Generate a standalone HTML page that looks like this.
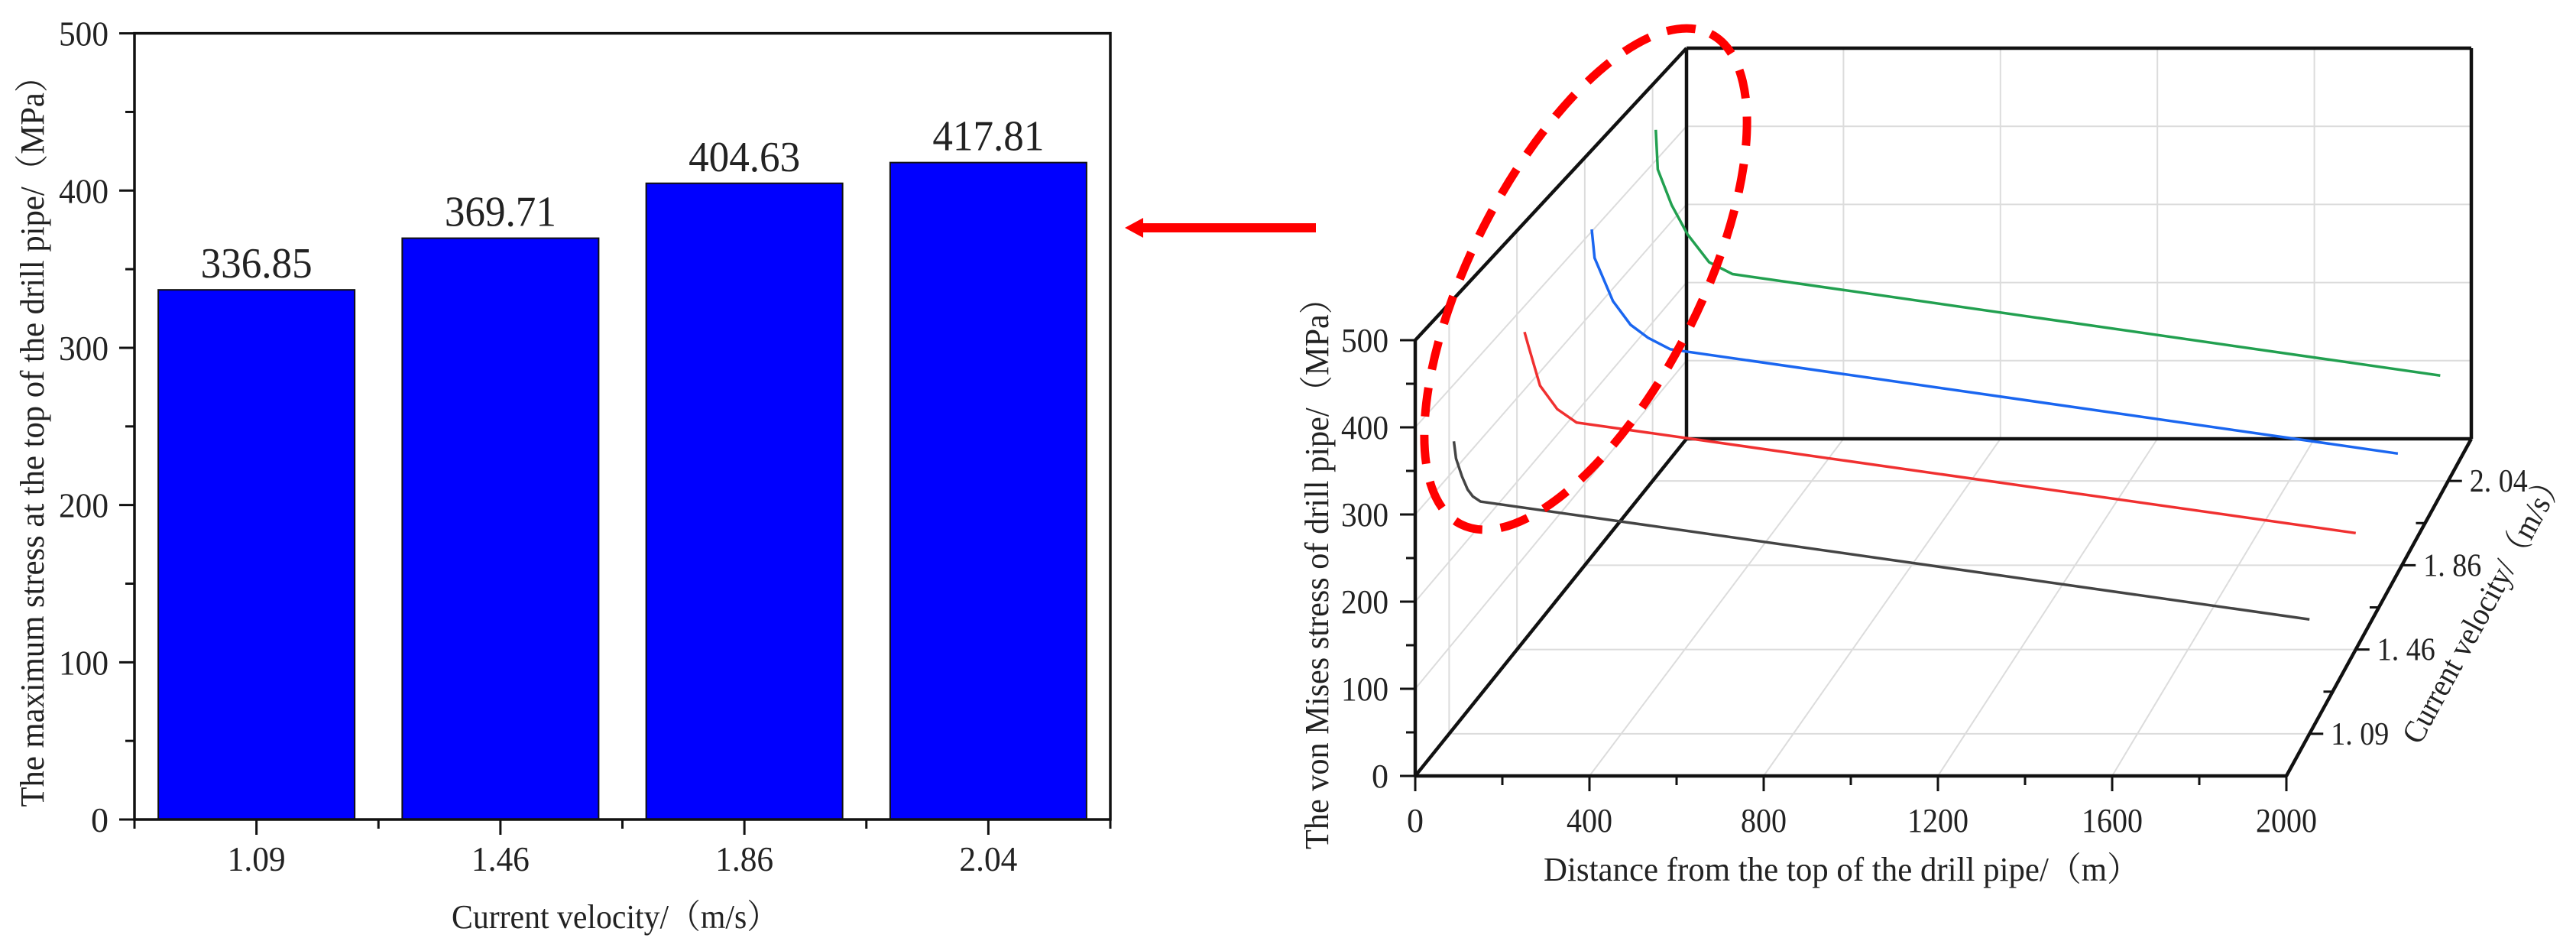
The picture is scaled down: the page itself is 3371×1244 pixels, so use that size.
<!DOCTYPE html>
<html><head><meta charset="utf-8"><style>
html,body{margin:0;padding:0;background:#fff;}
svg{display:block;}
text{font-family:"Liberation Serif","Noto Serif CJK SC",serif;fill:#222;}
</style></head><body>
<svg id="fig" width="3371" height="1244" viewBox="0 0 3371 1244" xmlns="http://www.w3.org/2000/svg">
<g id="bar"></g>
<g id="arrow">
  <rect x="1490" y="292" width="232" height="12" fill="#f00"/>
  <polygon points="1472,298 1496,285 1496,311" fill="#f00"/>
</g>
<g id="p3d"></g>
</svg>
<script>
// ---------- bar chart data ----------
const barCategories = ["1.09","1.46","1.86","2.04"];
const barValues = [336.85, 369.71, 404.63, 417.81];
const barLabels = ["336.85","369.71","404.63","417.81"];
const barYTicks = [0,100,200,300,400,500];

// ---------- 3D chart data ----------
const depthCategories = ["1. 09","1. 46","1. 86","2. 04"];
const xTicks3d = [0,400,800,1200,1600,2000];
const yTicks3d = [0,100,200,300,400,500];
const blackX = [11,16,30,43,55,73,2000];
const blackY = [340,320,299,284,276,270,133];
const redX = [18,27,55,96,142,2000];
const redY = [379,363,315,287,271,139];
const blueX = [17,24,69,112,155,209,1990];
const blueY = [412,377,324,295,279,265,137];
const greenX = [8,13,48,88,142,201,1980];
const greenY = [443,393,348,311,276,261,133];

const NS="http://www.w3.org/2000/svg";
function mk(parent,tag,attrs){const e=document.createElementNS(NS,tag);for(const k in attrs)e.setAttribute(k,attrs[k]);parent.appendChild(e);return e;}

// ---------- bar chart ----------
(function(){
  const g=document.getElementById('bar');
  const L=176,R=1453,T=43.6,B=1072;
  const xs=i=>L+(i+0.5)/4*(R-L);
  const ys=v=>B-v/500*(B-T);
  const bw=257;
  barValues.forEach((v,i)=>{
    const r=mk(g,'rect',{x:xs(i)-bw/2,y:ys(v),width:bw,height:B-ys(v),fill:'#0000ff',stroke:'#111','stroke-width':2});
    
    
    const t=mk(g,'text',{x:xs(i),y:ys(v)-16,'text-anchor':'middle','font-size':56,textLength:146,lengthAdjust:'spacingAndGlyphs'});
    t.textContent=barLabels[i];
    
    
    const tk=mk(g,'line',{x1:xs(i),x2:xs(i),y1:B,y2:B+20,stroke:'#111','stroke-width':3});
    
    
    const tl=mk(g,'text',{x:xs(i),y:B+67,'text-anchor':'middle','font-size':46,textLength:76,lengthAdjust:'spacingAndGlyphs'});
    tl.textContent=barCategories[i];
    
    
  });
  for(let i=0;i<=4;i++){
    const xm=L+i/4*(R-L);
    const m=mk(g,'line',{x1:xm,x2:xm,y1:B,y2:B+12,stroke:'#111','stroke-width':3});
    
    
  }
  barYTicks.forEach(v=>{
    const y=ys(v);
    const t=mk(g,'line',{x1:L-20,x2:L,y1:y,y2:y,stroke:'#111','stroke-width':3});
    
    
    const lab=mk(g,'text',{x:L-34,y:y+16,'text-anchor':'end','font-size':46});
    lab.textContent=String(v);
    if(v>=100){lab.setAttribute('textLength',65);lab.setAttribute('lengthAdjust','spacingAndGlyphs');}
    
    
    if(v<500){const ym=ys(v+50);
      const m=mk(g,'line',{x1:L-12,x2:L,y1:ym,y2:ym,stroke:'#111','stroke-width':3});
      
      }
  });
  const fr=mk(g,'rect',{x:L,y:T,width:R-L,height:B-T,fill:'none',stroke:'#111','stroke-width':3.5});
  
  
  const xt=mk(g,'text',{x:805,y:1214,'text-anchor':'middle','font-size':44,textLength:428,lengthAdjust:'spacingAndGlyphs'});
  xt.textContent='Current velocity/（m/s）';
  
  
  const yt=mk(g,'text',{x:0,y:0,'text-anchor':'middle','font-size':44,textLength:977,lengthAdjust:'spacingAndGlyphs',transform:'translate(57,567) rotate(-90)'});
  yt.textContent='The maximum stress at the top of the drill pipe/（MPa）';
  
  
})();

// ---------- 3D chart ----------
(function(){
  const g=document.getElementById('p3d');
  const O0=[1852,1015],O1=[2207,574],XL0=1140,XL1=1027,YL0=570,YL1=511;
  function P(x,y,z){const ox=O0[0]+(O1[0]-O0[0])*z, oy=O0[1]+(O1[1]-O0[1])*z;
    const xl=XL0+(XL1-XL0)*z, yl=YL0+(YL1-YL0)*z; return [ox+x/2000*xl, oy-y/500*yl];}
  const zc=i=>(i+0.5)/4;
  function ln(a,b,st,w,name){const e=mk(g,'line',{x1:a[0],y1:a[1],x2:b[0],y2:b[1],stroke:st,'stroke-width':w});
    return e;}
  const gc='#dcdcdc';
  yTicks3d.forEach(v=>{ if(v>0&&v<500){ln(P(0,v,1),P(2000,v,1),gc,2,'back-grid-h');} if(v>0&&v<500) ln(P(0,v,0),P(0,v,1),gc,2,'side-grid-diag');});
  xTicks3d.forEach(v=>{ if(v>0&&v<2000){ln(P(v,0,1),P(v,500,1),gc,2,'back-grid-v'); ln(P(v,0,0),P(v,0,1),gc,2,'floor-grid-diag');}});
  depthCategories.forEach((c,i)=>{ln(P(0,0,zc(i)),P(2000,0,zc(i)),gc,2,'floor-grid-h');ln(P(0,0,zc(i)),P(0,500,zc(i)),gc,2,'side-grid-v');});
  const bk='#111';
  ln(P(0,0,0),P(0,500,0),bk,4.5,'y-axis');
  ln(P(0,0,0),P(2000,0,0),bk,4.5,'x-axis');
  ln(P(0,0,0),P(0,0,1),bk,4.5,'box-edge');
  ln(P(0,500,0),P(0,500,1),bk,4.5,'box-edge');
  ln(P(2000,0,0),P(2000,0,1),bk,4.5,'depth-axis');
  ln(P(0,0,1),P(2000,0,1),bk,4.5,'box-edge');
  ln(P(0,500,1),P(2000,500,1),bk,4.5,'box-edge');
  ln(P(0,0,1),P(0,500,1),bk,4.5,'box-edge');
  ln(P(2000,0,1),P(2000,500,1),bk,4.5,'box-edge');
  const series=[[blackX,blackY,'#444','series-1.09'],[redX,redY,'#f03030','series-1.46'],[blueX,blueY,'#1a66f0','series-1.86'],[greenX,greenY,'#22a050','series-2.04']];
  series.forEach((s,i)=>{const pts=s[0].map((x,k)=>P(x,s[1][k],zc(i)).join(',')).join(' ');
    const pl=mk(g,'polyline',{points:pts,fill:'none',stroke:s[2],'stroke-width':3.5});
    
    });
  yTicks3d.forEach(v=>{const p=P(0,v,0);ln([p[0]-20,p[1]],p,bk,3,'y-tick');
    const t=mk(g,'text',{x:p[0]-35,y:p[1]+15,'text-anchor':'end','font-size':44});t.textContent=String(v);
    if(v>0){t.setAttribute('textLength',62);t.setAttribute('lengthAdjust','spacingAndGlyphs');}
    
    if(v<500){const q=P(0,v+50,0);ln([q[0]-12,q[1]],q,bk,3,'y-minor-tick');}});
  xTicks3d.forEach((v,i)=>{const p=P(v,0,0);ln(p,[p[0],p[1]+20],bk,3,'x-tick');
    const t=mk(g,'text',{x:p[0],y:p[1]+73,'text-anchor':'middle','font-size':44});t.textContent=String(v);
    if(v>0){t.setAttribute('textLength',v>=1000?80:60);t.setAttribute('lengthAdjust','spacingAndGlyphs');}
    
    if(v<2000){const q=P(v+200,0,0);ln(q,[q[0],q[1]+12],bk,3,'x-minor-tick');}});
  depthCategories.forEach((c,i)=>{const p=P(2000,0,zc(i));ln(p,[p[0]+18,p[1]],bk,3,'depth-tick');
    const t=mk(g,'text',{x:p[0]+28,y:p[1]+14,'font-size':42,textLength:76,lengthAdjust:'spacingAndGlyphs'});t.textContent=c;
    });
  for(let k=1;k<4;k++){const p=P(2000,0,k/4);ln([p[0]-12,p[1]],p,bk,3,'depth-minor-tick');}
  const xt=mk(g,'text',{x:2410,y:1152,'text-anchor':'middle','font-size':44,textLength:780,lengthAdjust:'spacingAndGlyphs'});
  xt.textContent='Distance from the top of the drill pipe/（m）';
  
  const yt=mk(g,'text',{x:0,y:0,'text-anchor':'middle','font-size':44,textLength:742,lengthAdjust:'spacingAndGlyphs',transform:'translate(1738,740) rotate(-90)'});
  yt.textContent='The von Mises stress of drill pipe/（MPa）';
  
  const zt=mk(g,'text',{x:0,y:0,'text-anchor':'middle','font-size':42,textLength:400,lengthAdjust:'spacingAndGlyphs',transform:'translate(3262,800) rotate(-61.5)'});
  zt.textContent='Current velocity/（m/s）';
  
  const el=mk(g,'ellipse',{cx:2075,cy:365,rx:360,ry:150,fill:'none',stroke:'#ff0000','stroke-width':11,'stroke-dasharray':'38 24',transform:'rotate(-63 2075 365)'});
  
})();
</script>
</body></html>
